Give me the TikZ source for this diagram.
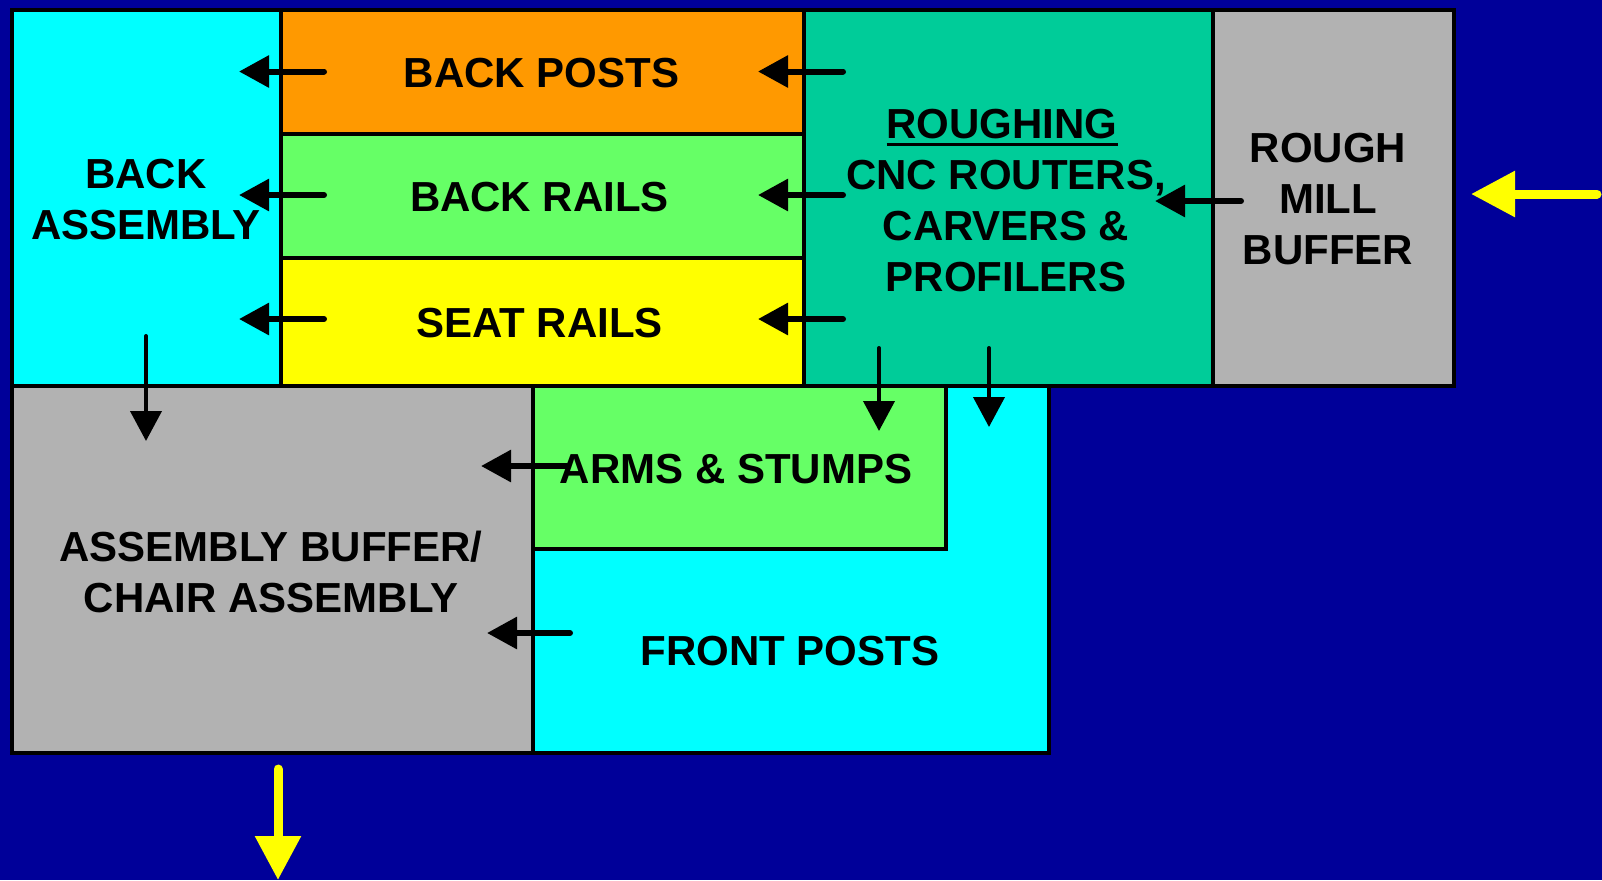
\documentclass[tikz,border=0pt]{standalone}
\usepackage{fontspec}
\setmainfont{Liberation Sans}
\usetikzlibrary{arrows.meta,fit}
\definecolor{bgblue}{RGB}{0,0,153}
\definecolor{cyanbox}{RGB}{0,255,255}
\definecolor{orangebox}{RGB}{255,153,0}
\definecolor{greenbox}{RGB}{102,255,102}
\definecolor{yellowbox}{RGB}{255,255,0}
\definecolor{tealbox}{RGB}{0,204,153}
\definecolor{graybox}{RGB}{178,178,178}
\newcommand\lblfont{\fontsize{21}{25.5}\selectfont\bfseries}
\newcommand\ulword[1]{\setbox0\hbox{#1}\rlap{\rule[-3.6pt]{\wd0}{1.5pt}}\box0}
\tikzset{
  area/.style={draw=black, line width=2pt, inner sep=0pt, outer sep=0pt},
  lbl/.style={font=\lblfont, align=center, inner sep=0pt},
  flow/.style={draw=black, line width=3pt, line cap=round,
    -{Triangle[length=15pt,width=15.5pt]}},
  vflow/.style={draw=black, line width=2pt, line cap=round,
    -{Triangle[length=15pt,width=15.5pt]}},
  inout/.style={draw=yellowbox, line width=4.5pt, line cap=round,
    -{Triangle[length=22pt,width=22pt]}},
}
\begin{document}
\begin{tikzpicture}[x=0.5pt,y=-0.5pt]
\fill[bgblue] (0,0) rectangle (1602,880);
\useasboundingbox (0,0) rectangle (1602,880);

% lower row
\node[area, fill=cyanbox, fit={(533,386) (1049,753)}] (front) {};
\node[area, fill=graybox, fit={(12,386) (533,753)}] (asm) {};
\node[area, fill=greenbox, fit={(533,386) (946,549)}] (arms) {};

% upper row
\node[area, fill=cyanbox, fit={(12,10) (281,386)}] (backasm) {};
\node[area, fill=orangebox, fit={(281,10) (804,134)}] (bposts) {};
\node[area, fill=greenbox, fit={(281,134) (804,258)}] (brails) {};
\node[area, fill=yellowbox, fit={(281,258) (804,386)}] (srails) {};
\node[area, fill=tealbox, fit={(804,10) (1213,386)}] (rough) {};
\node[area, fill=graybox, fit={(1213,10) (1454,386)}] (mill) {};

% labels
\node[lbl] (asmlbl) at (271,572) {ASSEMBLY BUFFER/\\CHAIR ASSEMBLY};
\node[lbl] (armslbl) at (736,469) {ARMS \& STUMPS};
\node[lbl] (frontlbl) at (790,651) {FRONT POSTS};
\node[lbl] (backasmlbl) at (146,200) {BACK\\ASSEMBLY};
\node[lbl] (bpostslbl) at (541.5,73.5) {BACK POSTS};
\node[lbl] (brailslbl) at (539.5,197) {BACK RAILS};
\node[lbl] (srailslbl) at (539.5,323) {SEAT RAILS};
\node[lbl] (roughlbl) at (1006,201)
  {\hspace*{-4pt}\ulword{ROUGHING}\\CNC ROUTERS,\\CARVERS \&\\PROFILERS};
\node[lbl] (milllbl) at (1328,199) {ROUGH\\MILL\\BUFFER};

% flow from the parts rows into back assembly
\foreach \y/\n in {71.5/a,195/b,319/c}{
  \coordinate (bt\n) at (324,\y);
  \coordinate (bh\n) at (239,\y);
  \coordinate (rt\n) at (843,\y);
  \coordinate (rh\n) at (758,\y);
  \draw[flow] (bt\n) -- (bh\n);
  \draw[flow] (rt\n) -- (rh\n);
}
% rough mill to roughing
\coordinate (mt) at (1241,201);
\coordinate (mh) at (1155,201);
\draw[flow] (mt) -- (mh);

% downward flows
\coordinate (dbt) at (146,336);
\coordinate (dbh) at (146,441);
\draw[vflow] (dbt) -- (dbh);
\coordinate (d1t) at (879,348);
\coordinate (d1h) at (879,431);
\draw[vflow] (d1t) -- (d1h);
\coordinate (d2t) at (989,348);
\coordinate (d2h) at (989,427);
\draw[vflow] (d2t) -- (d2h);

% arms and front posts into assembly
\coordinate (at) at (567,466);
\coordinate (ah) at (481,466);
\draw[flow] (at) -- (ah);
\coordinate (ft) at (570,633);
\coordinate (fh) at (487,633);
\draw[flow] (ft) -- (fh);

% material in and product out
\coordinate (inT) at (1597,194);
\coordinate (inH) at (1471,194);
\draw[inout] (inT) -- (inH);
\coordinate (outT) at (278,769);
\coordinate (outH) at (278,880);
\draw[inout] (outT) -- (outH);
\end{tikzpicture}
\end{document}
